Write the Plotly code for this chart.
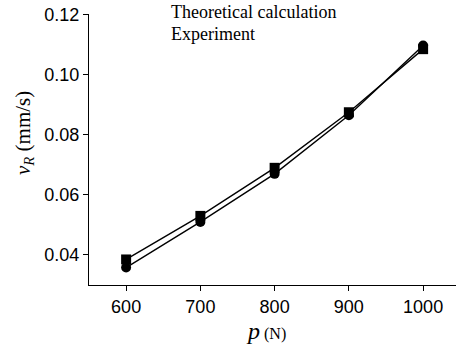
import plotly.graph_objects as go

loads = [600, 700, 800, 900, 1000]
theory = [0.0385, 0.053, 0.069, 0.0875, 0.1085]
experiment = [0.0358, 0.051, 0.067, 0.0865, 0.1097]
series_names = ["Theoretical calculation", "Experiment"]
yticks = [0.04, 0.06, 0.08, 0.10, 0.12]
xticks = [600, 700, 800, 900, 1000]

fig = go.Figure()
fig.add_trace(go.Scatter(x=loads, y=theory, mode="lines+markers", name=series_names[0],
                         line=dict(color="black", width=1.4),
                         marker=dict(symbol="square", size=10, color="black")))
fig.add_trace(go.Scatter(x=loads, y=experiment, mode="lines+markers", name=series_names[1],
                         line=dict(color="black", width=1.4),
                         marker=dict(symbol="circle", size=10, color="black")))

L, T, B = 89, 14, 347 - 285
H = 347 - T - B
W = 456 - L


def px(xp):
    return (xp - L) / W


def py(yp):
    return 1 - (yp - T) / H


serif = "Liberation Serif"
for i, name in enumerate(series_names):
    fig.add_annotation(x=px(169), y=py(12 + i * 22), xref="paper", yref="paper", text=name,
                       showarrow=False, xanchor="left", yanchor="middle",
                       font=dict(family=serif, size=18, color="black"))

fig.add_annotation(x=px(266), y=py(331), xref="paper", yref="paper",
                   text="<i>p</i><span style='font-size:16px'> (N)</span>",
                   showarrow=False, xanchor="center", yanchor="middle",
                   font=dict(family=serif, size=24, color="black"))
fig.add_annotation(x=px(24), y=py(133), xref="paper", yref="paper",
                   text="<i>v<sub>R</sub></i> (mm/s)", textangle=-90,
                   showarrow=False, xanchor="center", yanchor="middle",
                   font=dict(family=serif, size=21, color="black"))

fig.update_layout(
    width=456, height=347,
    margin=dict(l=L, r=0, t=T, b=B),
    plot_bgcolor="white", paper_bgcolor="white",
    showlegend=False,
    xaxis=dict(range=[550, 1044.3], tickvals=xticks, ticks="outside", ticklen=5,
               tickcolor="black", showline=True, linecolor="black", linewidth=1,
               showgrid=False, zeroline=False, automargin=False,
               ticklabeloverflow="allow",
               tickfont=dict(family="Liberation Sans", size=18, color="black")),
    yaxis=dict(range=[0.03, 0.1202], tickvals=yticks, tickformat=".2f", ticks="outside",
               ticklen=5, tickcolor="black", showline=True, linecolor="black", linewidth=1,
               showgrid=False, zeroline=False, automargin=False,
               ticklabeloverflow="allow",
               tickfont=dict(family="Liberation Sans", size=18, color="black")),
)
fig.write_html("out.html", config={"displayModeBar": False},
               post_script="document.body.style.margin='0';")
